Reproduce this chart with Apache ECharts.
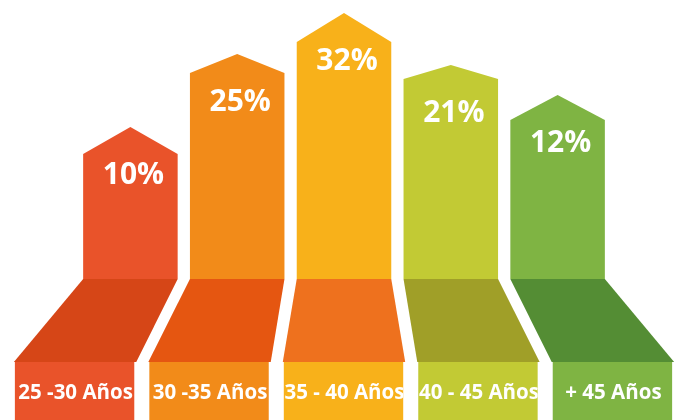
<!DOCTYPE html>
<html><head><meta charset="utf-8">
<script src="https://cdn.jsdelivr.net/npm/echarts@6/dist/echarts.min.js"></script>
<style>html,body{margin:0;padding:0;background:#fff}#c{width:682px;height:420px}</style>
</head><body><div id="c"></div>
<script>
const categories = ['25 -30 Años', '30 -35 Años', '35 - 40 Años', '40 - 45 Años', '+ 45 Años'];
const percentages = [10, 25, 32, 21, 12];
const columnHeights = [125, 206, 237, 200, 159];
const roofHeights = [152, 225, 266, 214, 184];
const topColors = ['#E9532A', '#F28B19', '#F8B11A', '#C2CA34', '#7FB443'];
const floorColors = ['#D64617', '#E55611', '#EE711E', '#A09F28', '#548D34'];

const chart = echarts.init(document.getElementById('c'), null, { renderer: 'canvas' });
const seriesData = categories.map((c, i) => [i, columnHeights[i], roofHeights[i], percentages[i]]);

chart.setOption({
  animation: false,
  grid: { left: 77, right: 71, top: 0, bottom: 0 },
  xAxis: { type: 'category', data: categories, show: false },
  yAxis: { type: 'value', min: -141, max: 279, show: false },
  series: [{
    type: 'custom',
    data: seriesData,
    renderItem(params, api) {
      const i = api.value(0);
      const base = api.coord([i, 0]);
      const cx = base[0];
      const baseY = base[1];
      const band = api.size([1, 0])[0];
      const hw = band * 0.885 / 2;
      const sh = api.coord([i, api.value(1)])[1];
      const ap = api.coord([i, api.value(2)])[1];
      const floorY = api.coord([i, -83])[1];
      const bottomY = api.coord([i, -141])[1];
      const mid = params.coordSys.x + params.coordSys.width / 2;
      const bcx = mid + (cx - mid) * 1.259;
      const fhw = 61.2;
      const boxL = bcx - 60.2, boxR = bcx + 59.2;
      const c = topColors[i];
      return {
        type: 'group',
        children: [
          { type: 'polygon', shape: { points: [[cx - hw, baseY], [cx - hw, sh], [cx, ap], [cx + hw, sh], [cx + hw, baseY]] }, style: { fill: c } },
          { type: 'polygon', shape: { points: [[cx - hw, baseY], [cx + hw, baseY], [bcx + fhw, floorY], [bcx - fhw, floorY]] }, style: { fill: floorColors[i] } },
          { type: 'rect', shape: { x: boxL, y: floorY, width: boxR - boxL, height: bottomY - floorY }, style: { fill: c } },
          { type: 'text', x: cx + 3, y: ap + 48, style: { text: api.value(3) + '%', fill: '#fff', font: 'bold 30px "Open Sans"', align: 'center', verticalAlign: 'middle' } },
          {
            type: 'group',
            clipPath: { type: 'rect', shape: { x: boxL, y: floorY, width: boxR - boxL, height: bottomY - floorY } },
            children: [
              { type: 'text', x: (boxL + boxR) / 2 + 1, y: (floorY + bottomY) / 2 + 2, style: { text: categories[i], fill: '#fff', font: 'bold 20.5px "Open Sans"', align: 'center', verticalAlign: 'middle' } }
            ]
          }
        ]
      };
    }
  }]
});
</script></body></html>
